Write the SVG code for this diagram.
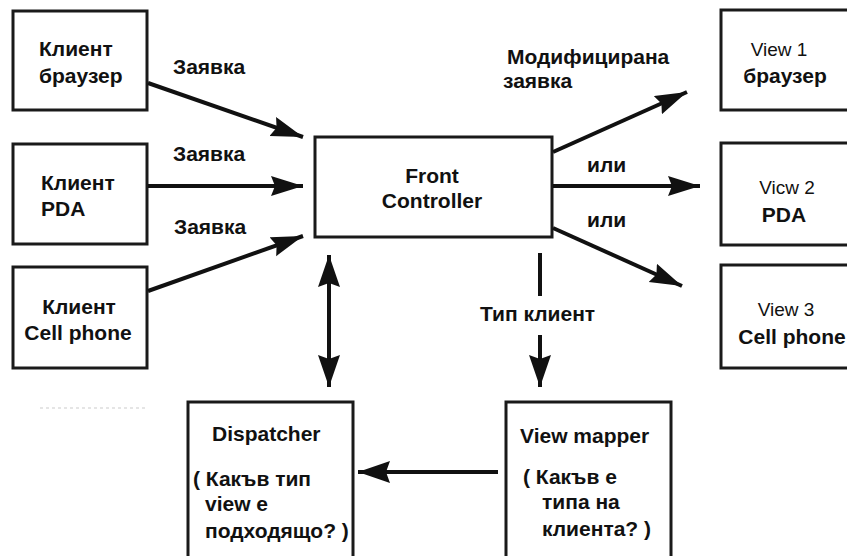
<svg xmlns="http://www.w3.org/2000/svg" width="847" height="556" viewBox="0 0 847 556">
  <style>
    .box { fill: #ffffff; stroke: #1a1a1a; stroke-width: 3; }
    .t { font-family: "Liberation Sans", Arial, sans-serif; font-size: 21px; font-weight: bold; fill: #111111; }
    .tr { font-family: "Liberation Sans", Arial, sans-serif; font-size: 19px; font-weight: normal; fill: #111111; }
    .mid { text-anchor: middle; }
    .edge { stroke: #111111; stroke-width: 4; fill: none; }
  </style>
  <defs>
    <marker id="head" markerUnits="userSpaceOnUse" markerWidth="34" markerHeight="22" refX="32" refY="10" orient="auto">
      <path d="M0,0 L32,10 L0,20 L4,10 Z" fill="#111111"/>
    </marker>
    <marker id="headStart" markerUnits="userSpaceOnUse" markerWidth="34" markerHeight="24" refX="0" refY="11" orient="auto">
      <path d="M32,0 L0,11 L32,22 L28,11 Z" fill="#111111"/>
    </marker>
    <marker id="headBig" markerUnits="userSpaceOnUse" markerWidth="34" markerHeight="24" refX="32" refY="11" orient="auto">
      <path d="M0,0 L32,11 L0,22 L4,11 Z" fill="#111111"/>
    </marker>
  </defs>

  <rect width="847" height="556" fill="#ffffff"/>

  <!-- clients -->
  <g id="client-browser">
    <rect class="box" x="13" y="11" width="134" height="99"/>
    <text class="t" x="39" y="56">Клиент</text>
    <text class="t" x="39" y="83">браузер</text>
  </g>
  <g id="client-pda">
    <rect class="box" x="13" y="144" width="134" height="100"/>
    <text class="t" x="41" y="190">Клиент</text>
    <text class="t" x="41" y="216">PDA</text>
  </g>
  <g id="client-cell">
    <rect class="box" x="13" y="267" width="134" height="101"/>
    <text class="t mid" x="79" y="314">Клиент</text>
    <text class="t mid" x="78" y="340">Cell phone</text>
  </g>

  <!-- faint rule under the clients -->
  <line x1="40" y1="408" x2="147" y2="408" stroke="#dddddd" stroke-width="1.5" stroke-dasharray="3 3"/>

  <!-- front controller -->
  <g id="front-controller">
    <rect class="box" x="315" y="137" width="237" height="100"/>
    <text class="t mid" x="432" y="183">Front</text>
    <text class="t mid" x="432" y="208">Controller</text>
  </g>

  <!-- views -->
  <g id="view-1">
    <rect class="box" x="721" y="10" width="140" height="100"/>
    <text class="tr mid" x="779" y="56">View 1</text>
    <text class="t mid" x="785" y="83">браузер</text>
  </g>
  <g id="view-2">
    <rect class="box" x="721" y="143" width="140" height="102"/>
    <text class="tr mid" x="787" y="194">Vicw 2</text>
    <text class="t mid" x="784" y="222">PDA</text>
  </g>
  <g id="view-3">
    <rect class="box" x="721" y="265" width="140" height="103"/>
    <text class="tr mid" x="786" y="316">View 3</text>
    <text class="t mid" x="792" y="344">Cell phone</text>
  </g>

  <!-- dispatcher -->
  <g id="dispatcher">
    <rect class="box" x="188" y="402" width="165" height="170"/>
    <text class="t" x="212" y="441">Dispatcher</text>
    <text class="t" x="193" y="486">( Какъв тип</text>
    <text class="t" x="205" y="511">view е</text>
    <text class="t" x="205" y="538">подходящо? )</text>
  </g>

  <!-- view mapper -->
  <g id="view-mapper">
    <rect class="box" x="506" y="402" width="165" height="170"/>
    <text class="t" x="520" y="443">View mapper</text>
    <text class="t" x="523" y="484">( Какъв е</text>
    <text class="t" x="542" y="509">типа на</text>
    <text class="t" x="542" y="536">клиента? )</text>
  </g>

  <!-- connectors -->
  <g id="connectors">
    <line class="edge" x1="148" y1="83" x2="303" y2="137" marker-end="url(#head)"/>
    <line class="edge" x1="148" y1="186" x2="303" y2="186" marker-end="url(#head)"/>
    <line class="edge" x1="148" y1="291" x2="303" y2="236" marker-end="url(#head)"/>

    <line class="edge" x1="553" y1="152" x2="687" y2="92" marker-end="url(#head)"/>
    <line class="edge" x1="553" y1="186" x2="700" y2="186" marker-end="url(#head)"/>
    <line class="edge" x1="553" y1="228" x2="682" y2="286" marker-end="url(#head)"/>

    <line class="edge" x1="329" y1="255" x2="329" y2="387" marker-start="url(#headStart)" marker-end="url(#headBig)"/>

    <line class="edge" x1="540" y1="253" x2="540" y2="296"/>
    <line class="edge" x1="540" y1="335" x2="540" y2="387" marker-end="url(#headBig)"/>

    <line class="edge" x1="498" y1="472" x2="358" y2="472" marker-end="url(#headBig)"/>
  </g>

  <!-- connector labels -->
  <g id="labels">
    <text class="t" x="173" y="74">Заявка</text>
    <text class="t" x="173" y="161">Заявка</text>
    <text class="t" x="174" y="234">Заявка</text>
    <text class="t" x="507" y="64">Модифицирана</text>
    <text class="t" x="503" y="88">заявка</text>
    <text class="t" x="587" y="172">или</text>
    <text class="t" x="587" y="227">или</text>
    <text class="t" x="480" y="321">Тип клиент</text>
  </g>
</svg>
